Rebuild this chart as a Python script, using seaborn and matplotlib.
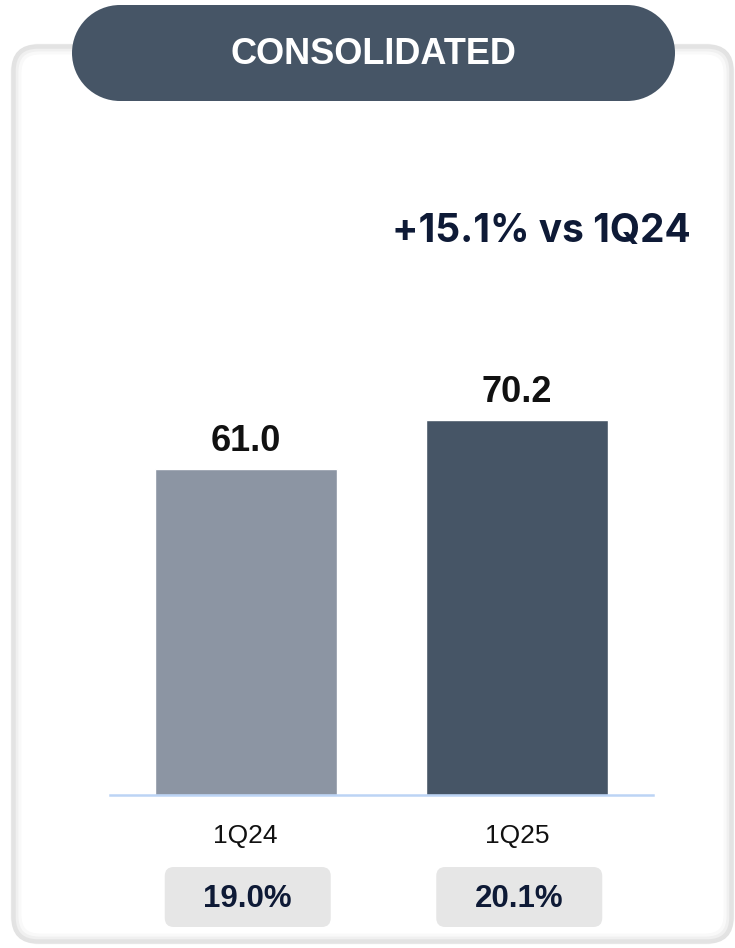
import matplotlib
matplotlib.use("Agg")
import matplotlib.pyplot as plt
from matplotlib.patches import FancyBboxPatch, Rectangle, Circle
import seaborn as sns
import pandas as pd

# Revenue by quarter (consolidated)
periods = ["1Q24", "1Q25"]
values = [61.0, 70.2]
margins = ["19.0%", "20.1%"]
growth_label = "+15.1% vs 1Q24"
title = "CONSOLIDATED"

bar_colors = ["#8c95a3", "#465566"]
dark = "#465566"
navy = "#0e1a36"

sns.set_theme(style="white")
plt.rcParams["font.family"] = ["Liberation Sans", "DejaVu Sans"]

W, H = 735, 948
fig = plt.figure(figsize=(W / 100, H / 100), dpi=100)
fig.patch.set_facecolor("white")

# Background layer in pixel coordinates for the card and header pill
bg = fig.add_axes([0, 0, 1, 1], zorder=0)
bg.set_xlim(0, W)
bg.set_ylim(H, 0)
bg.axis("off")

# Card with a soft grey edge
card_x0, card_y0, card_x1, card_y1 = 12, 45, 733, 943
for lw, a, inset in [(8, 0.025, 4), (5, 0.035, 3), (2.5, 0.05, 2)]:
    bg.add_patch(FancyBboxPatch((card_x0 + inset, card_y0 + inset),
                                card_x1 - card_x0 - 2 * inset,
                                card_y1 - card_y0 - 2 * inset,
                                boxstyle="round,pad=0,rounding_size=24",
                                facecolor="none", edgecolor="black",
                                lw=lw, alpha=a))
bg.add_patch(FancyBboxPatch((card_x0, card_y0), card_x1 - card_x0, card_y1 - card_y0,
                            boxstyle="round,pad=0,rounding_size=26",
                            facecolor="none", edgecolor="#e2e2e2", lw=1.0))

# Header pill with semicircular ends
pill_x0, pill_y0, pill_x1, pill_y1 = 72, 5, 675, 101
r = (pill_y1 - pill_y0) / 2
cy = (pill_y0 + pill_y1) / 2
bg.add_patch(Rectangle((pill_x0 + r, pill_y0), pill_x1 - pill_x0 - 2 * r,
                       pill_y1 - pill_y0, facecolor=dark, edgecolor="none"))
bg.add_patch(Circle((pill_x0 + r, cy), r, facecolor=dark, edgecolor="none"))
bg.add_patch(Circle((pill_x1 - r, cy), r, facecolor=dark, edgecolor="none"))
bg.text((pill_x0 + pill_x1) / 2, 54, title, color="white", fontsize=26,
        fontweight="bold", ha="center", va="center")

# Growth callout
bg.text(541, 231, growth_label, color=navy, fontsize=28, fontweight="bold",
        family=["Inter", "DejaVu Sans"], ha="center", va="center")

# Bar chart
ax_left, ax_right, ax_base, ax_top = 110, 653, 795, 145
ax = fig.add_axes([ax_left / W, (H - ax_base) / H,
                   (ax_right - ax_left) / W, (ax_base - ax_top) / H], zorder=1)
ax.patch.set_alpha(0)

df = pd.DataFrame({"period": periods, "value": values})
sns.barplot(data=df, x="period", y="value", hue="period",
            palette=bar_colors, width=0.67, legend=False, ax=ax,
            saturation=1)
ax.set_xlim(-0.5, 1.5)
ax.set_ylim(0, (ax_base - ax_top) / 5.34)

for i, v in enumerate(values):
    ax.annotate(f"{v:.1f}", (i, v), xytext=(0, 13), textcoords="offset points",
                ha="center", va="baseline", fontsize=26, fontweight="bold",
                color="#111111")

for s in ["left", "right", "top"]:
    ax.spines[s].set_visible(False)
ax.spines["bottom"].set_color("#bcd4f5")
ax.spines["bottom"].set_linewidth(1.8)
ax.set_yticks([])
ax.set_xlabel("")
ax.set_ylabel("")
ax.tick_params(axis="x", length=0, pad=21, labelsize=19, labelcolor="#111111")

# Margin badges under each quarter
fig.canvas.draw()
for i, m in enumerate(margins):
    xpix = ax.transData.transform((i, 0))[0] + 2
    bw, bh = 166, 60
    bg.add_patch(FancyBboxPatch((xpix - bw / 2, 867), bw, bh,
                                boxstyle="round,pad=0,rounding_size=9",
                                facecolor="#e6e6e6", edgecolor="none"))
    bg.text(xpix, 899, m, color=navy, fontsize=22.5, fontweight="bold",
            ha="center", va="center")

fig.savefig("out.png", dpi=100)
